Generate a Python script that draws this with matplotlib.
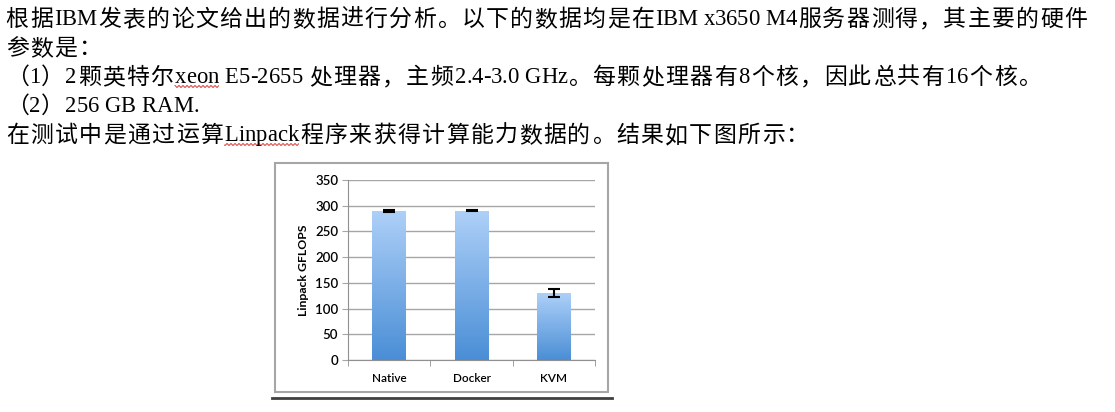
import numpy as np
import matplotlib.pyplot as plt
from matplotlib.patches import Rectangle
from matplotlib.lines import Line2D
from matplotlib.colors import LinearSegmentedColormap
from matplotlib.font_manager import FontProperties, findfont, get_font

# Paragraph text above the chart
text_lines = [
    "根据IBM发表的论文给出的数据进行分析。以下的数据均是在IBM x3650 M4服务器测得，其主要的硬件",
    "参数是：",
    "（1）2颗英特尔xeon E5-2655 处理器，主频2.4-3.0 GHz。每颗处理器有8个核，因此总共有16个核。",
    "（2）256 GB RAM.",
    "在测试中是通过运算Linpack程序来获得计算能力数据的。结果如下图所示：",
]
# words with a red spell-check squiggle: (line index, word)
squiggles = [(2, "xeon"), (4, "Linpack")]

# Linpack results
categories = ["Native", "Docker", "KVM"]
gflops = [290, 290, 130]
errors = [1.5, 1.0, 8]
y_ticks = [0, 50, 100, 150, 200, 250, 300, 350]

W, H = 1115, 412
DPI = 100
fig = plt.figure(figsize=(W / DPI, H / DPI), dpi=DPI)
fig.patch.set_facecolor("white")


def fx(px):
    return px / W


def fy(py):
    return 1 - py / H


# ---- paragraph, laid out char by char (Word-like mixed CJK / Latin) ----
latin_pt = 16.3
cjk_pt = 16.5
cjk_pitch = 24.3
latin_fp = FontProperties(family="Liberation Serif", size=latin_pt)
cjk_fp = FontProperties(family="Noto Sans CJK SC", size=cjk_pt)
latin_font = get_font(findfont(latin_fp))
latin_font.set_size(latin_pt, DPI)


def advance(c):
    if ord(c) < 128:
        g = latin_font.load_char(ord(c))
        return g.linearHoriAdvance / 65536
    return cjk_pitch


def is_ideo(c):
    return "\u4e00" <= c <= "\u9fff"


def is_alnum(c):
    return c.isascii() and c.isalnum()


x_start = 5
baselines = [25, 54, 83, 112, 141]
justify_to = {0: 1088}
autospace = 0.8

for li, (s, base) in enumerate(zip(text_lines, baselines)):
    xs = []
    x = x_start
    prev = None
    for c in s:
        if prev is not None and ((is_ideo(prev) and is_alnum(c)) or (is_alnum(prev) and is_ideo(c))):
            x += autospace
        xs.append(x)
        x += advance(c)
        prev = c
    end = x
    if li in justify_to:
        extra = (justify_to[li] - end) / (len(s) - 1)
        xs = [xx + i * extra for i, xx in enumerate(xs)]
    for c, xx in zip(s, xs):
        if c == " ":
            continue
        if ord(c) < 128:
            fig.text(fx(xx), fy(base), c, fontproperties=latin_fp,
                     va="baseline", ha="left", color="black")
        else:
            # centre the CJK glyph in its (slightly wider) cell
            fig.text(fx(xx + cjk_pitch / 2), fy(base + 1), c, fontproperties=cjk_fp,
                     va="baseline", ha="center", color="black")
    for sl, word in squiggles:
        if sl == li:
            i0 = s.index(word)
            x0 = xs[i0]
            x1 = xs[i0 + len(word) - 1] + advance(word[-1])
            wx = np.arange(x0, x1, 0.5)
            wy = base + 3.5 + 0.9 * np.sin(wx * np.pi / 2.0)
            fig.add_artist(Line2D(fx(wx), fy(wy), transform=fig.transFigure,
                                  color="#e03030", lw=0.7))

# ---- chart frame and rule below ----
fig.add_artist(Rectangle((fx(275), fy(392)), fx(608) - fx(275), fy(163) - fy(392),
                         transform=fig.transFigure, fill=False,
                         edgecolor="#a6a6a6", lw=1.5))
fig.add_artist(Line2D([fx(272), fx(612)], [fy(398), fy(398)],
                      transform=fig.transFigure, color="#404040", lw=2))

ax = fig.add_axes([fx(348), fy(360), fx(595) - fx(348), fy(180) - fy(360)])
x = np.arange(len(categories))
bar_w = 0.41
bars = ax.bar(x, gflops, width=bar_w, color="none", edgecolor="none", zorder=2)

grad = np.linspace(0, 1, 256).reshape(-1, 1)
cmap = LinearSegmentedColormap.from_list("blu", ["#4a8ed6", "#aed0f8"])
for b in bars:
    im = ax.imshow(grad, extent=[b.get_x(), b.get_x() + b.get_width(), 0, b.get_height()],
                   origin="lower", cmap=cmap, aspect="auto", zorder=2)
    im.set_clip_path(b)

ax.errorbar(x, gflops, yerr=errors, fmt="none", ecolor="black",
            elinewidth=1.5, capsize=4, capthick=1.5, zorder=3)

ax.set_xlim(-0.5, len(categories) - 0.5)
ax.set_ylim(0, 350)
ax.set_yticks(y_ticks)
ax.set_xticks(x)
ax.set_xticklabels(categories)
ax.set_xticks(np.arange(len(categories) + 1) - 0.5, minor=True)
ax.tick_params(axis="x", which="major", length=0, pad=9)
ax.tick_params(axis="x", which="minor", length=4, color="#909090", direction="out")
ax.tick_params(axis="y", length=4, color="#a6a6a6", direction="out", pad=3)
for lab in ax.get_xticklabels():
    lab.set_family("Lato")
    lab.set_fontsize(8.5)
    lab.set_fontweight("semibold")
for lab in ax.get_yticklabels():
    lab.set_family("Lato")
    lab.set_fontsize(9.5)
    lab.set_fontweight("semibold")
ax.grid(axis="y", color="#a6a6a6", lw=1, zorder=0)
ax.set_axisbelow(True)
for side in ["top", "right"]:
    ax.spines[side].set_visible(False)
ax.spines["left"].set_color("#909090")
ax.spines["bottom"].set_color("#909090")
ax.set_ylabel("Linpack GFLOPS", family="Lato", fontweight="bold", fontsize=8.8, labelpad=4)

fig.savefig("out.png", dpi=DPI, facecolor="white")
